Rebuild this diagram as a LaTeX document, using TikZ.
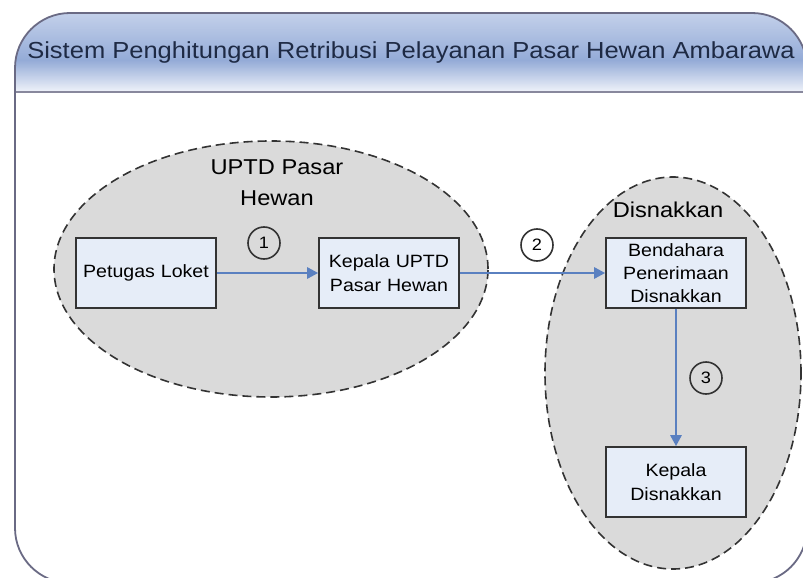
\documentclass[tikz,border=0pt]{standalone}
\usepackage{fontspec}
\setmainfont{Liberation Sans}[FakeStretch=1.1]
\usetikzlibrary{shapes.geometric,arrows.meta}
\definecolor{frameC}{HTML}{6A6A84}
\definecolor{headTop}{HTML}{C3D0EA}
\definecolor{headMid}{HTML}{94ABD7}
\definecolor{headBot}{HTML}{F0F3FA}
\definecolor{titleC}{HTML}{1E2A44}
\definecolor{grpFill}{HTML}{DADADA}
\definecolor{boxFill}{HTML}{E6EDF8}
\definecolor{arrC}{HTML}{5A80C0}
\tikzset{
  grp/.style={ellipse, draw=black!80, fill=grpFill, dashed, dash pattern=on 9pt off 5pt, line width=1.6pt, inner sep=0pt},
  actor/.style={draw=black!80, fill=boxFill, line width=1.6pt, minimum width=140pt, minimum height=70pt, inner sep=1pt, align=center, text width=136pt, font=\fontsize{17.8}{24}\selectfont},
  grplabel/.style={align=center, font=\fontsize{21.5}{31}\selectfont},
  num/.style={circle, draw=black!80, line width=1.6pt, minimum size=32pt, inner sep=0pt, font=\fontsize{16.5}{17}\selectfont},
  flow/.style={draw=arrC, line width=2.6pt, -{Triangle[length=11pt,width=11pt]}}
}
\begin{document}
\begin{tikzpicture}[x=1pt,y=-1pt]
\useasboundingbox (0,0) rectangle (803,578);
\fill[white] (0,0) rectangle (803,578);
\begin{scope}
  \clip[rounded corners=55pt] (15,13) rectangle (807,583);
  \foreach \i in {0,...,47}{
    \pgfmathtruncatemacro{\p}{100*\i/47}
    \fill[headMid!\p!headTop] (0,13+\i) rectangle (820,14.2+\i);
  }
  \foreach \i in {0,...,32}{
    \pgfmathtruncatemacro{\p}{100*\i/32}
    \fill[headBot!\p!headMid] (0,60+\i) rectangle (820,61.2+\i);
  }
\end{scope}
\draw[frameC!80, line width=2.4pt] (15,92) -- (807,92);
\draw[frameC, line width=1.8pt, rounded corners=55pt] (15,13) rectangle (807,583);
\node[font=\fontsize{23.2}{28}\selectfont, text=titleC] (title) at (411,53) {Sistem Penghitungan Retribusi Pelayanan Pasar Hewan Ambarawa};

\node[grp, minimum width=434pt, minimum height=256pt] (uptd) at (271,269) {};
\node[grp, minimum width=256pt, minimum height=392pt] (dis) at (673,373) {};

\node[grplabel] (uptdlabel) at (277,183) {UPTD Pasar\\Hewan};
\node[grplabel] (dislabel) at (668,210) {Disnakkan};

\node[actor] (petugas) at (146,273) {Petugas Loket};
\node[actor] (kepuptd) at (389,273) {Kepala UPTD\\Pasar Hewan};
\node[actor, font=\fontsize{17.8}{23}\selectfont] (bendahara) at (676,273) {Bendahara\\Penerimaan\\Disnakkan};
\node[actor] (kepdis) at (676,482) {Kepala\\Disnakkan};

\draw[flow] (petugas) -- (kepuptd);
\draw[flow] (kepuptd) -- (bendahara);
\draw[flow] (bendahara) -- (kepdis);

\node[num] (n1) at (264,243) {1};
\node[num] (n2) at (537,245) {2};
\node[num] (n3) at (706,378) {3};
\end{tikzpicture}
\end{document}
